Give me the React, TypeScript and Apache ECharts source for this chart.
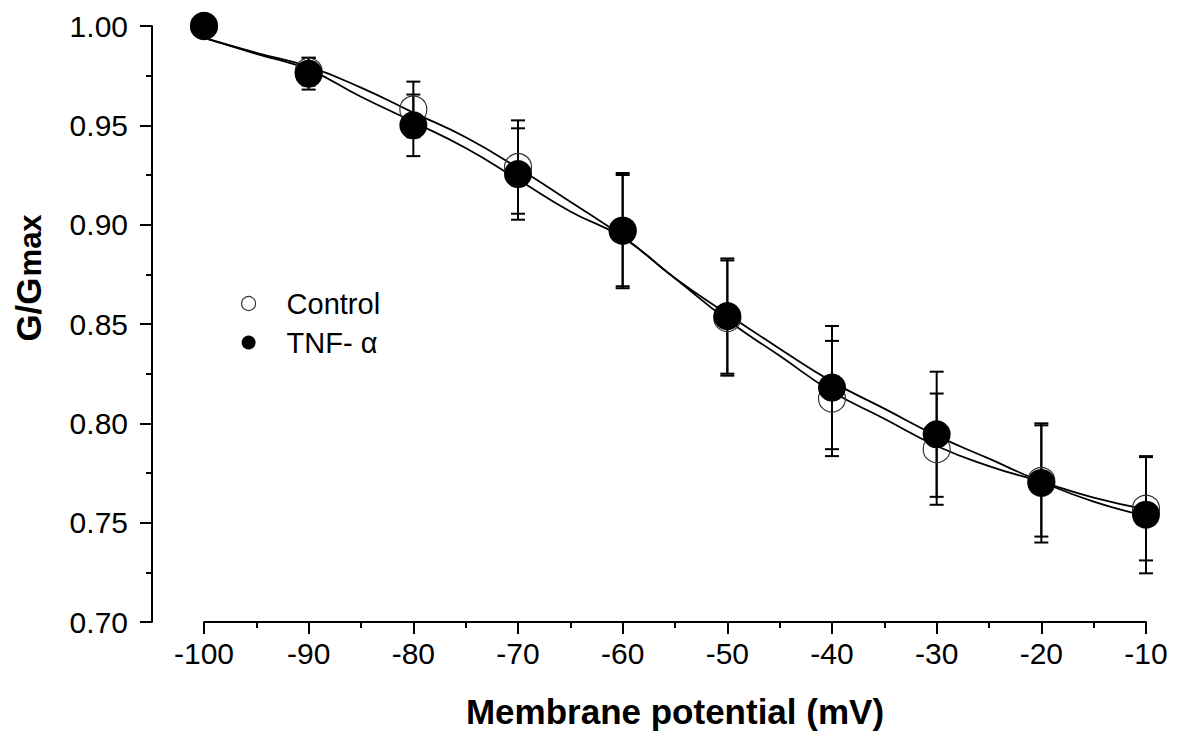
import React, { useEffect, useRef } from "react";
import * as echarts from "echarts";

// ---- data ----
const voltages = [-100, -90, -80, -70, -60, -50, -40, -30, -20, -10];
const controlMean = [1.0, 0.977, 0.958, 0.929, 0.897, 0.853, 0.8125, 0.787, 0.771, 0.757];
const controlErr = [0, 0.007, 0.014, 0.0235, 0.028, 0.029, 0.029, 0.028, 0.028, 0.026];
const tnfMean = [1.0, 0.976, 0.95, 0.9255, 0.897, 0.854, 0.818, 0.7945, 0.77, 0.754];
const tnfErr = [0, 0.008, 0.0155, 0.023, 0.029, 0.029, 0.031, 0.0315, 0.03, 0.0295];

// fitted curves (every 5 mV)
const curveX = [-100, -95, -90, -85, -80, -75, -70, -65, -60, -55, -50, -45, -40, -35, -30, -25, -20, -15, -10];
const controlCurve = [0.994, 0.9865, 0.9795, 0.969, 0.9564, 0.944, 0.9285, 0.9115, 0.894, 0.873, 0.852, 0.834, 0.816, 0.8023, 0.7886, 0.7785, 0.7706, 0.7626, 0.7567];
const tnfCurve = [0.994, 0.986, 0.978, 0.9644, 0.9517, 0.9386, 0.9227, 0.9066, 0.8935, 0.873, 0.855, 0.8376, 0.821, 0.8074, 0.7938, 0.7822, 0.7706, 0.7606, 0.7534];

const xTicks = { min: -100, max: -10, interval: 10 };
const yTicks = { min: 0.7, max: 1.0, interval: 0.05 };

const FONT = "'Liberation Sans', Arial, Helvetica, sans-serif";

function errData(mean: number[], err: number[]) {
  return voltages
    .map((v, i) => [v, mean[i] - err[i], mean[i] + err[i], err[i]])
    .filter((d) => d[3] > 0);
}

function errorBarRender(params: any, api: any) {
  const x = api.value(0);
  const lo = api.value(1);
  const hi = api.value(2);
  const pHi = api.coord([x, hi]);
  const pLo = api.coord([x, lo]);
  const hw = 7;
  const style = { stroke: "#000", lineWidth: 2 };
  return {
    type: "group",
    children: [
      { type: "line", shape: { x1: pHi[0], y1: pHi[1], x2: pLo[0], y2: pLo[1] }, style },
      { type: "line", shape: { x1: pHi[0] - hw, y1: pHi[1], x2: pHi[0] + hw, y2: pHi[1] }, style },
      { type: "line", shape: { x1: pLo[0] - hw, y1: pLo[1], x2: pLo[0] + hw, y2: pLo[1] }, style },
    ],
  };
}

export default function App() {
  const ref = useRef<HTMLDivElement>(null);

  useEffect(() => {
    if (!ref.current) return;
    const chart = echarts.init(ref.current, null, { renderer: "svg" });
    const axisLineStyle = { color: "#000", width: 2 };
    chart.setOption({
      animation: false,
      backgroundColor: "#fff",
      grid: { left: 204, right: 37, top: 26, bottom: 117, containLabel: false },
      xAxis: {
        type: "value",
        min: xTicks.min,
        max: xTicks.max,
        interval: xTicks.interval,
        name: "Membrane potential (mV)",
        nameLocation: "middle",
        nameGap: 72,
        nameTextStyle: { fontFamily: FONT, fontWeight: "bold", fontSize: 35, color: "#000" },
        axisLine: { show: true, onZero: false, lineStyle: axisLineStyle },
        axisTick: { show: true, length: 12, lineStyle: axisLineStyle },
        minorTick: { show: true, splitNumber: 2, length: 6, lineStyle: axisLineStyle },
        axisLabel: { fontFamily: FONT, fontSize: 30, color: "#000", margin: 16 },
        splitLine: { show: false },
        minorSplitLine: { show: false },
      },
      yAxis: {
        type: "value",
        min: yTicks.min,
        max: yTicks.max,
        interval: yTicks.interval,
        offset: 52,
        axisLine: { show: true, onZero: false, lineStyle: axisLineStyle },
        axisTick: { show: true, length: 12, lineStyle: axisLineStyle },
        minorTick: { show: true, splitNumber: 2, length: 6, lineStyle: axisLineStyle },
        axisLabel: {
          fontFamily: FONT,
          fontSize: 30,
          color: "#000",
          margin: 24,
          formatter: (v: number) => v.toFixed(2),
        },
        splitLine: { show: false },
        minorSplitLine: { show: false },
      },
      legend: {
        orient: "vertical",
        left: 236,
        top: 284,
        icon: "circle",
        itemWidth: 66,
        itemHeight: 14,
        itemGap: 10,
        textStyle: { fontFamily: FONT, fontSize: 29, color: "#000", lineHeight: 29 },
        data: [
          { name: "Control", itemStyle: { color: "rgba(255,255,255,0)", borderColor: "#333", borderWidth: 1.2, opacity: 1 } },
          { name: "TNF- α", itemStyle: { color: "#000", opacity: 1 } },
        ],
      },
      graphic: [
        {
          type: "text",
          x: 28,
          y: 278,
          rotation: Math.PI / 2,
          style: {
            text: "{a|G/G}{b|max}",
            align: "center",
            verticalAlign: "middle",
            fill: "#000",
            rich: {
              a: { fontFamily: FONT, fontWeight: "bold", fontSize: 35, fill: "#000", verticalAlign: "bottom" },
              b: { fontFamily: FONT, fontWeight: "bold", fontSize: 31, fill: "#000", verticalAlign: "bottom", padding: [0, 0, 0, 1] },
            },
          },
        },
      ],
      series: [
        {
          name: "Control fit",
          type: "line",
          smooth: true,
          showSymbol: false,
          z: 1,
          lineStyle: { color: "#000", width: 1.8 },
          data: curveX.map((x, i) => [x, controlCurve[i]]),
        },
        {
          name: "TNF fit",
          type: "line",
          smooth: true,
          showSymbol: false,
          z: 1,
          lineStyle: { color: "#000", width: 1.8 },
          data: curveX.map((x, i) => [x, tnfCurve[i]]),
        },
        {
          name: "Control err",
          type: "custom",
          z: 2,
          renderItem: errorBarRender,
          encode: { x: 0, y: [1, 2] },
          data: errData(controlMean, controlErr),
        },
        {
          name: "TNF err",
          type: "custom",
          z: 2,
          renderItem: errorBarRender,
          encode: { x: 0, y: [1, 2] },
          data: errData(tnfMean, tnfErr),
        },
        {
          name: "Control",
          type: "scatter",
          z: 3,
          symbol: "circle",
          symbolSize: 27,
          itemStyle: { color: "rgba(255,255,255,0)", borderColor: "#333", borderWidth: 1.2, opacity: 1 },
          data: voltages.map((v, i) => [v, controlMean[i]]),
        },
        {
          name: "TNF- α",
          type: "scatter",
          z: 4,
          symbol: "circle",
          symbolSize: 28,
          itemStyle: { color: "#000", opacity: 1 },
          data: voltages.map((v, i) => [v, tnfMean[i]]),
        },
      ],
    });
    return () => chart.dispose();
  }, []);

  return (
    <div
      ref={ref}
      style={{ position: "fixed", left: 0, top: 0, width: 1183, height: 739, background: "#fff" }}
    />
  );
}
